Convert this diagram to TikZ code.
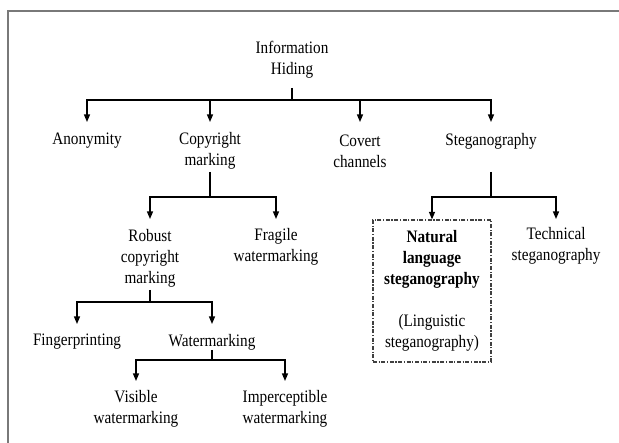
\documentclass[tikz,border=0pt]{standalone}
\usepackage{fontspec}
\setmainfont{Liberation Serif}[FakeStretch=0.87]
\usetikzlibrary{arrows.meta}
\begin{document}
\begin{tikzpicture}[x=1pt,y=-1pt,
  lbl/.style={align=center,inner sep=0pt,font=\fontsize{17.5}{21}\selectfont},
  conn/.style={line width=1.2pt,black},
  arr/.style={conn,-{Triangle[length=7.5pt,width=6pt]}},
  frameline/.style={line width=2pt,gray!95!black},
  nlbox/.style={lbl,draw=black!75,line width=1.2pt,dash pattern=on 4pt off 1.6pt on 1.2pt off 1.6pt,minimum width=118pt,minimum height=142pt}]
\useasboundingbox (0,0) rectangle (619,443);
\draw[frameline] (8,443) -- (8,11) -- (619,11);

% nodes
\node[lbl] (ih) at (292,60) {Information\\Hiding};
\node[lbl] (anon) at (87,141) {Anonymity};
\node[lbl] (copy) at (210,151) {Copyright\\marking};
\node[lbl] (covert) at (360,151) {Covert\\channels};
\node[lbl] (steg) at (491,141) {Steganography};
\node[lbl] (robust) at (150,258) {Robust\\copyright\\marking};
\node[lbl] (fragile) at (276,247) {Fragile\\watermarking};
\node[nlbox] (nat) at (432,291) {\textbf{Natural}\\\textbf{language}\\\textbf{steganography}\\[21pt](Linguistic\\steganography)};
\node[lbl] (tech) at (556,246) {Technical\\steganography};
\node[lbl] (finger) at (77,342) {Fingerprinting};
\node[lbl] (water) at (212,342) {Watermarking};
\node[lbl] (visible) at (136,409) {Visible\\watermarking};
\node[lbl] (imperc) at (285,409) {Imperceptible\\watermarking};

% level 1
\draw[conn] (ih.south |- 0,88) -- (ih.south |- 0,100) coordinate (hb);
\draw[arr] (hb) -| (anon |- 0,122);
\draw[arr] (hb) -| (copy |- 0,122);
\draw[arr] (hb) -| (covert |- 0,122);
\draw[arr] (hb) -| (steg |- 0,122);

% copyright marking
\draw[conn] (copy.south |- 0,172) -- (copy.south |- 0,197) coordinate (cb);
\draw[arr] (cb) -| (robust |- 0,219);
\draw[arr] (cb) -| (fragile |- 0,219);

% steganography
\draw[conn] (steg.south |- 0,172) -- (steg.south |- 0,197) coordinate (sb);
\draw[arr] (sb) -| (nat.north);
\draw[arr] (sb) -| (tech |- 0,219);

% robust copyright marking
\draw[conn] (robust.south |- 0,290) -- (robust.south |- 0,302) coordinate (rb);
\draw[arr] (rb) -| (finger |- 0,324);
\draw[arr] (rb) -| (water |- 0,324);

% watermarking
\draw[conn] (water.south |- 0,350) -- (water.south |- 0,360) coordinate (wb);
\draw[arr] (wb) -| (visible |- 0,381);
\draw[arr] (wb) -| (imperc |- 0,381);
\end{tikzpicture}
\end{document}
